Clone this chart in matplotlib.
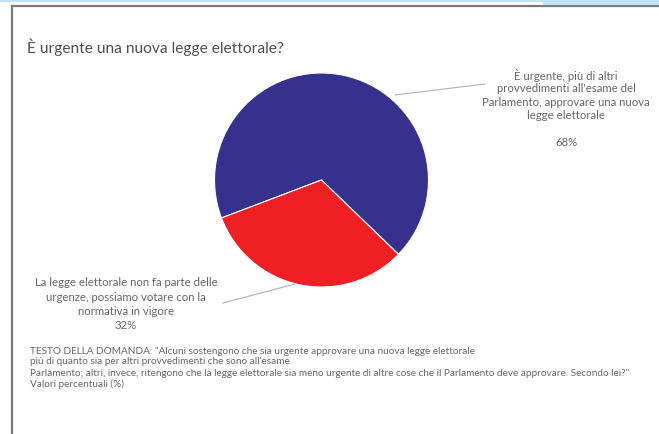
import matplotlib
matplotlib.use("Agg")
import matplotlib.pyplot as plt
from matplotlib.lines import Line2D

plt.rcParams['font.family'] = ['Lato', 'DejaVu Sans']

# dati del sondaggio
values = [68, 32]
colors = ['#35318d', '#ee2024']
title = "È urgente una nuova legge elettorale?"
label_urgent = ["È urgente, più di altri",
                "provvedimenti all'esame del",
                "Parlamento, approvare una nuova",
                "legge elettorale",
                "",
                "68%"]
label_not_urgent = ["La legge elettorale non fa parte delle",
                    "urgenze, possiamo votare con la",
                    "normativa in vigore",
                    "32%"]
note_lines = ['TESTO DELLA DOMANDA: "Alcuni sostengono che sia urgente approvare una nuova legge elettorale',
              "più di quanto sia per altri provvedimenti che sono all'esame",
              'Parlamento; altri, invece, ritengono che la legge elettorale sia meno urgente di altre cose che il Parlamento deve approvare. Secondo lei?"',
              "Valori percentuali (%)"]

W, H = 659, 434
fig = plt.figure(figsize=(W / 100, H / 100), dpi=100)
fig.patch.set_facecolor('white')


def fx(px):
    return px / W


def fy(py):
    return 1 - py / H


# pie
cx, cy, r = 321.5, 180, 107
ax = fig.add_axes([fx(cx - r), fy(cy + r), 2 * r / W, 2 * r / H])
ax.pie(values, colors=colors, startangle=316,
       wedgeprops=dict(edgecolor='white', linewidth=0.8))
ax.set_xlim(-1, 1)
ax.set_ylim(-1, 1)
ax.set_aspect('equal')
ax.axis('off')

# cornice
fig.add_artist(Line2D([fx(12), fx(659)], [fy(6), fy(6)], color='#7a7a7a', lw=1.6, transform=fig.transFigure))
fig.add_artist(Line2D([fx(12), fx(12)], [fy(6), fy(434)], color='#7a7a7a', lw=1.6, transform=fig.transFigure))
fig.add_artist(Line2D([0, 1], [fy(1), fy(1)], color='#bfe3f0', lw=1.5, transform=fig.transFigure))
fig.add_artist(Line2D([fx(545), 1], [fy(3), fy(3)], color='#bfe3f0', lw=3, transform=fig.transFigure))

fig.text(fx(27), fy(47), title, fontsize=11.2, color='#505050', va='center', ha='left')

txt_col = '#666666'
for i, line in enumerate(label_urgent):
    fig.text(fx(566), fy(75 + 13.6 * i), line, fontsize=8.2, color=txt_col, ha='center', va='center')
for i, line in enumerate(label_not_urgent):
    fig.text(fx(126), fy(283 + 14.3 * i), line, fontsize=8.2, color=txt_col, ha='center', va='center')

# linee guida
line_col = '#9fb3c2'
fig.add_artist(Line2D([fx(395), fx(485)], [fy(95), fy(84)], color=line_col, lw=0.8, transform=fig.transFigure))
fig.add_artist(Line2D([fx(223), fx(295)], [fy(303), fy(284)], color=line_col, lw=0.8, transform=fig.transFigure))

for i, line in enumerate(note_lines):
    fig.text(fx(30), fy(351 + 11 * i), line, fontsize=7.2, color=txt_col, ha='left', va='center')

fig.savefig('out.png', dpi=100)
